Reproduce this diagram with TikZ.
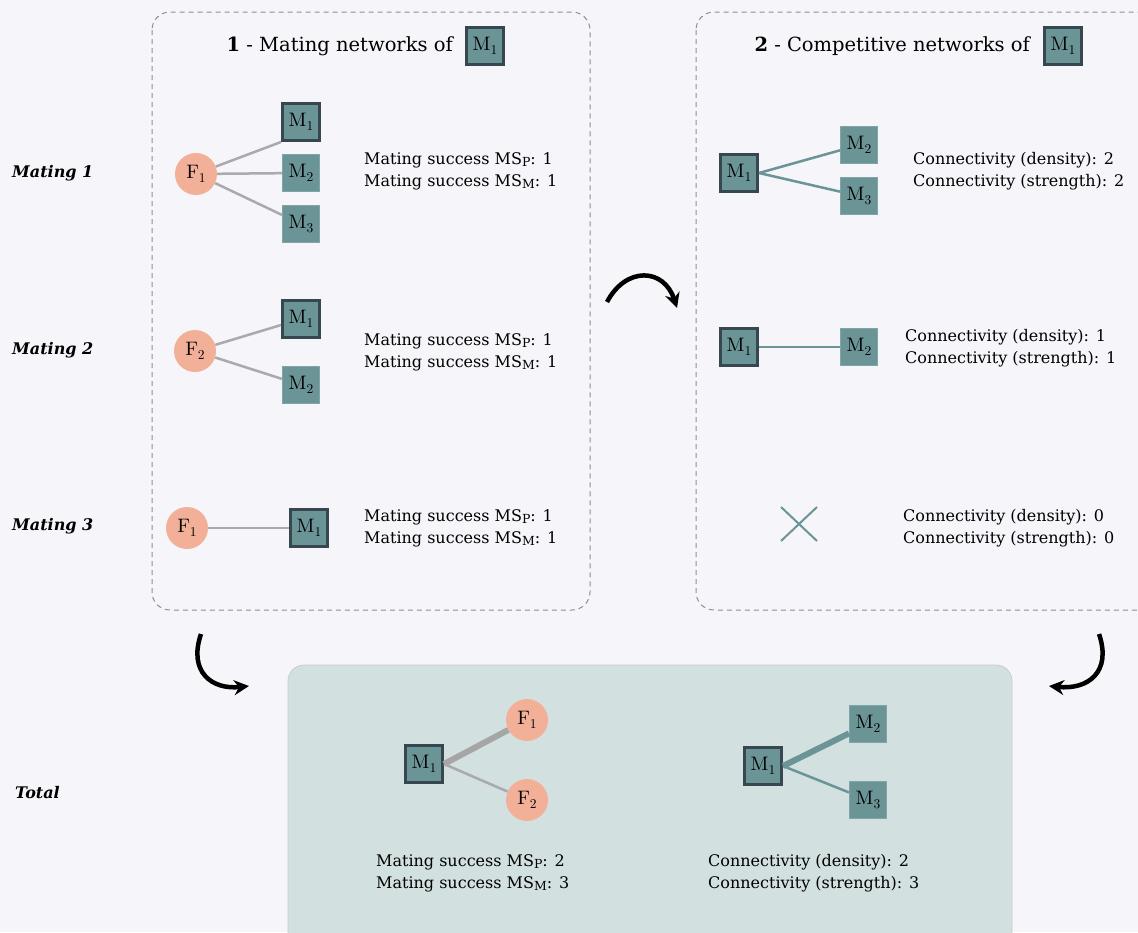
\documentclass[tikz,border=0pt]{standalone}
\usepackage{fontspec}
\setmainfont{DejaVu Serif}
\newfontfamily\lmr[Extension=.otf]{lmroman10-regular}
\usetikzlibrary{arrows.meta}
\definecolor{bgc}{HTML}{F5F5FA}
\definecolor{tealc}{HTML}{6B9497}
\definecolor{slatec}{HTML}{37474F}
\definecolor{salmonc}{HTML}{F3B098}
\definecolor{lgrayc}{HTML}{A9A9AE}
\definecolor{dashc}{HTML}{8A8F94}
\definecolor{totalc}{HTML}{D3E0E0}
\newcommand{\msub}[1]{\raisebox{-2.5pt}{\fontsize{12.5}{12.5}\selectfont #1}}
\newcommand{\lab}[2]{{\lmr #1\raisebox{-3.5pt}{\fontsize{13.5}{13.5}\selectfont #2}}}
\tikzset{
  male/.style={rectangle, fill=tealc, draw=tealc!85!white, line width=0.6pt, minimum size=37.5pt, inner sep=0pt, font=\fontsize{19.5}{19.5}\selectfont},
  focal/.style={male, draw=slatec, line width=3pt, minimum size=37pt},
  fem/.style={circle, fill=salmonc, minimum size=42pt, inner sep=0pt, font=\fontsize{19.5}{19.5}\selectfont},
  mline/.style={draw=lgrayc, line width=2.5pt},
  cline/.style={draw=tealc, line width=2.5pt},
  info/.style={anchor=west, align=left, inner sep=0pt, font=\fontsize{16}{22}\selectfont},
  rowlab/.style={anchor=west, inner sep=0pt, font=\fontsize{16}{16}\selectfont\bfseries\itshape},
  ttl/.style={anchor=east, inner sep=0pt, font=\fontsize{19.5}{20}\selectfont},
  panel/.style={draw=dashc, line width=1pt, dash pattern=on 5pt off 4pt, rounded corners=18pt},
  bendarrow/.style={line width=4.5pt, -{Stealth[length=15pt,width=15pt,inset=5pt]}}
}
\begin{document}
\begin{tikzpicture}[x=1pt,y=-1pt]
\useasboundingbox (0,0) rectangle (1138,932);
\clip (0,0) rectangle (1138,932);
\fill[bgc] (0,0) rectangle (1138,932);

% panels
\draw[panel] (152,12) rectangle (590,610);
\draw[panel] (696,12) rectangle (1170,610);
\draw[fill=totalc, draw=black!20, line width=0.8pt, rounded corners=16pt] (288,665) rectangle (1012,960);

% titles
\node[focal] (t1box) at (485,46) {\lab{M}{1}};
\node[ttl] (t1) at ([xshift=-12pt]t1box.west) {\textbf{1} - Mating networks of};
\node[focal] (t2box) at (1063,46) {\lab{M}{1}};
\node[ttl] (t2) at ([xshift=-13pt]t2box.west) {\textbf{2} - Competitive networks of};

% row labels
\node[rowlab] (r1) at (12,173) {Mating 1};
\node[rowlab] (r2) at (12,350) {Mating 2};
\node[rowlab] (r3) at (12,526) {Mating 3};
\node[rowlab] (r4) at (15,793) {Total};

% mating 1
\node[fem] (a F1) at (196,174) {\lab{F}{1}};
\node[focal] (a M1) at (301,122) {\lab{M}{1}};
\node[male] (a M2) at (301,173) {\lab{M}{2}};
\node[male] (a M3) at (301,224) {\lab{M}{3}};
\draw[mline] (a F1) -- (a M1.south west);
\draw[mline] (a F1) -- (a M2);
\draw[mline] (a F1) -- (a M3);
\node[info] (a txt) at (364,171) {Mating success MS\msub{P}: 1\\Mating success MS\msub{M}: 1};

% mating 2
\node[fem] (b F2) at (195,351) {\lab{F}{2}};
\node[focal] (b M1) at (301,319) {\lab{M}{1}};
\node[male] (b M2) at (301,385) {\lab{M}{2}};
\draw[mline] (b F2) -- (b M1);
\draw[mline] (b F2) -- (b M2);
\node[info] (b txt) at (364,352) {Mating success MS\msub{P}: 1\\Mating success MS\msub{M}: 1};

% mating 3
\node[fem] (c F1) at (187,528) {\lab{F}{1}};
\node[focal] (c M1) at (309,528) {\lab{M}{1}};
\draw[mline] (c F1) -- (c M1);
\node[info] (c txt) at (364,528) {Mating success MS\msub{P}: 1\\Mating success MS\msub{M}: 1};

% competitive 1
\node[focal] (d M1) at (739,173) {\lab{M}{1}};
\node[male] (d M2) at (859,145) {\lab{M}{2}};
\node[male] (d M3) at (859,196) {\lab{M}{3}};
\draw[cline] (d M1.east) -- (d M2);
\draw[cline] (d M1.east) -- (d M3);
\node[info] (d txt) at (913,171) {Connectivity (density): 2\\Connectivity (strength): 2};

% competitive 2
\node[focal] (e M1) at (739,347) {\lab{M}{1}};
\node[male] (e M2) at (859,347) {\lab{M}{2}};
\draw[cline] (e M1) -- (e M2);
\node[info] (e txt) at (905,348) {Connectivity (density): 1\\Connectivity (strength): 1};

% competitive 3
\draw[tealc, line width=2pt] (781,507) -- (817,541) (781,541) -- (817,507);
\node[info] (f txt) at (903,528) {Connectivity (density): 0\\Connectivity (strength): 0};

% total mating
\node[focal] (g M1) at (424,764) {\lab{M}{1}};
\node[fem] (g F1) at (527,720) {\lab{F}{1}};
\node[fem] (g F2) at (527,800) {\lab{F}{2}};
\draw[draw=black!35, line width=6pt] (g M1.east) -- (g F1);
\draw[mline] (g M1.east) -- (g F2);
\node[info] (g txt) at (376,873) {Mating success MS\msub{P}: 2\\Mating success MS\msub{M}: 3};

% total competitive
\node[focal] (h M1) at (763,766) {\lab{M}{1}};
\node[male] (h M2) at (868,724) {\lab{M}{2}};
\node[male] (h M3) at (868,800) {\lab{M}{3}};
\draw[draw=tealc, line width=6pt] (h M1.east) -- (h M2);
\draw[cline] (h M1.east) -- (h M3);
\node[info] (h txt) at (708,873) {Connectivity (density): 2\\Connectivity (strength): 3};

% curved arrows
\coordinate (p1s) at (607,302);
\coordinate (p1e) at (677,308);
\draw[bendarrow] (p1s) .. controls (626,266) and (664,268) .. (p1e);
\coordinate (p2s) at (201,634);
\coordinate (p2e) at (249,686);
\draw[bendarrow] (p2s) .. controls (188,672) and (212,690) .. (p2e);
\coordinate (p3s) at (1099,634);
\coordinate (p3e) at (1049,686);
\draw[bendarrow] (p3s) .. controls (1112,672) and (1088,690) .. (p3e);
\end{tikzpicture}
\end{document}
